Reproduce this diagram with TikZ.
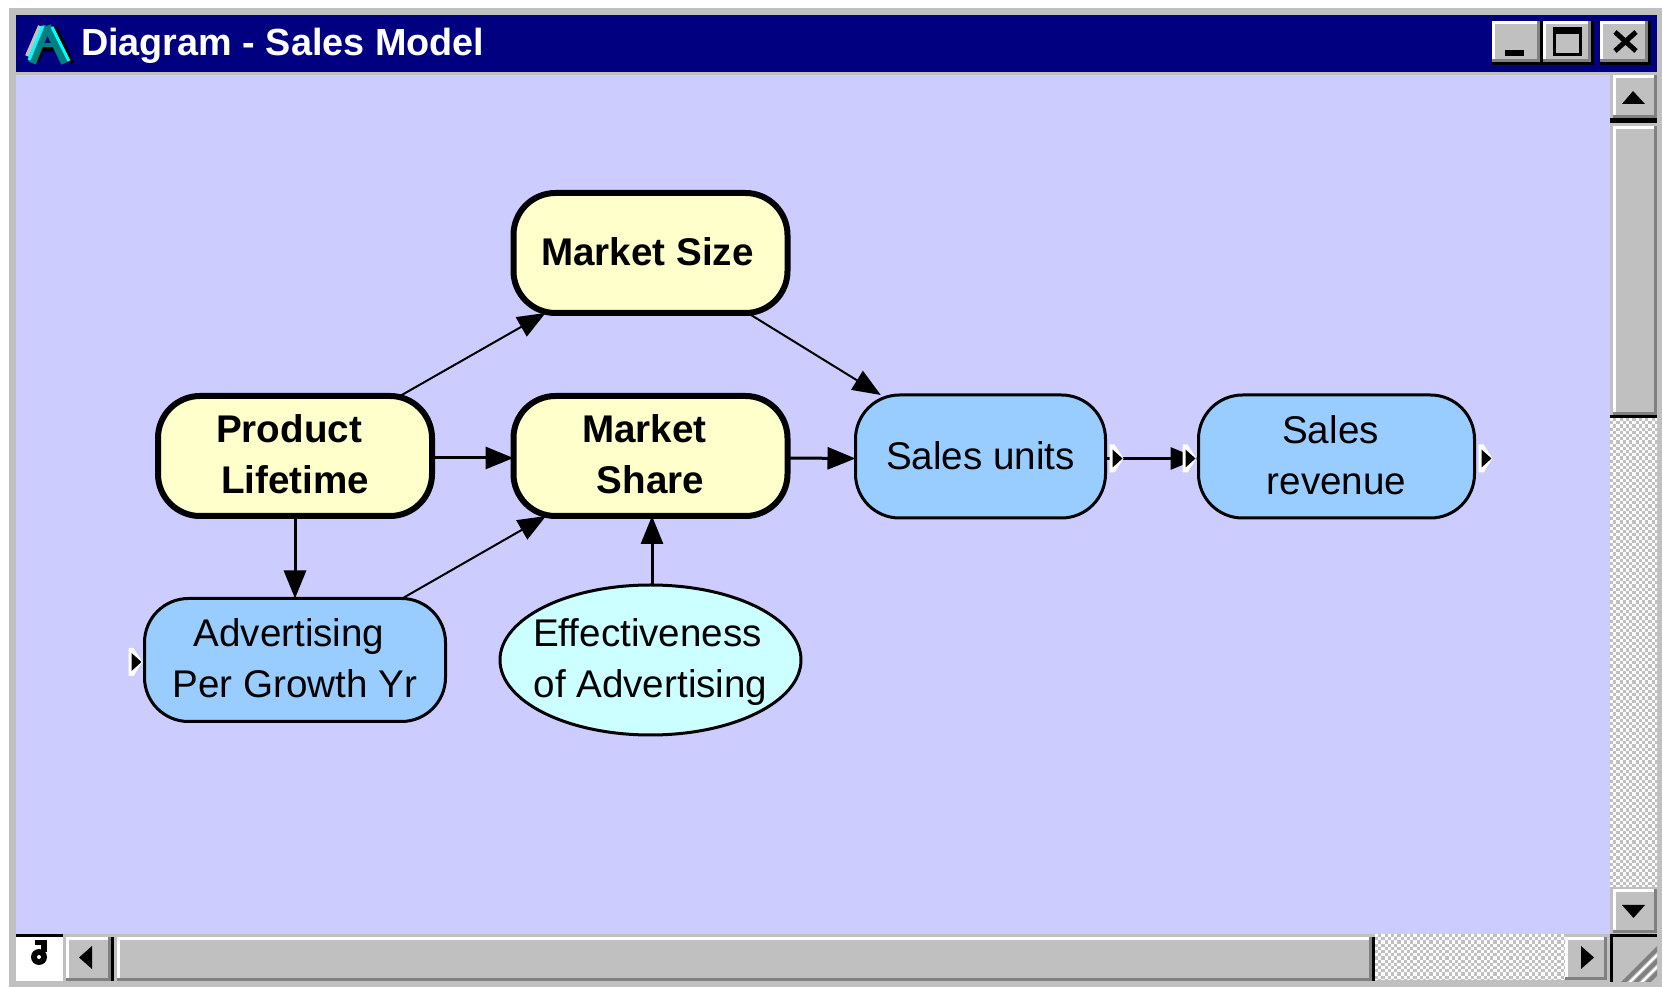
\documentclass[tikz,border=0pt]{standalone}
\usepackage{fontspec}
\setmainfont{Liberation Sans}
\usepackage{xcolor}
\usetikzlibrary{arrows.meta,calc,shapes.geometric}
\definecolor{winGrey}{RGB}{192,192,192}
\definecolor{winDark}{RGB}{128,128,128}
\definecolor{winNavy}{RGB}{0,0,128}
\definecolor{canvasBg}{RGB}{204,204,255}
\definecolor{decisionFill}{RGB}{255,255,204}
\definecolor{variableFill}{RGB}{153,204,255}
\definecolor{chanceFill}{RGB}{204,255,255}
\definecolor{iconTeal}{RGB}{0,128,128}
\definecolor{iconCyan}{RGB}{0,255,255}
\tikzset{
  x=0.5pt, y=-0.5pt,
  modelText/.style={font=\fontsize{19.3}{25.5}\selectfont, align=center, text=black, inner sep=0pt, outer sep=0pt},
  oneLine/.style={execute at begin node={\rule{0pt}{16.5pt}}, execute at end node={\rule[-3.5pt]{0pt}{0pt}}},
  twoLines/.style={execute at end node={\rule[-1.5pt]{0pt}{0pt}}},
  inputNode/.style={modelText, font=\fontsize{19.3}{25.5}\selectfont\bfseries, draw=black, fill=decisionFill, line width=3pt,
    rounded corners=21pt, minimum width=137pt, minimum height=60pt},
  varNode/.style={modelText, draw=black, fill=variableFill, line width=1.5pt,
    rounded corners=22pt, minimum height=61.5pt},
  chanceNode/.style={modelText, ellipse, draw=black, fill=chanceFill, line width=1.5pt,
    inner xsep=-9pt, minimum width=150.5pt, minimum height=75pt},
  influence/.style={-{Triangle[length=14pt,width=11pt]}, line width=1.5pt},
  influenceThin/.style={-{Triangle[length=14pt,width=11pt]}, line width=1pt},
  titleText/.style={font=\fontsize{18.9}{22}\selectfont\bfseries, text=white, inner sep=0pt, outer sep=0pt, anchor=base west}
}
% raised button: x0,y0,x1,y1
\newcommand{\DrawButton}[4]{%
  \fill[winDark] (#1,#2) rectangle (#3,#4);
  \fill[white] (#1,#2) rectangle ({#3-3},{#4-3});
  \fill[winGrey] ({#1+3},{#2+3}) rectangle ({#3-3},{#4-3});
}
% title bar button has a black shadow outside
\newcommand{\DrawTitleButton}[4]{%
  \fill[black] (#1,#2) rectangle ({#3+3},{#4+3});
  \DrawButton{#1}{#2}{#3}{#4}
}
% dithered scroll track
\newcommand{\DrawChecker}[4]{%
  \fill[winGrey] (#1,#2) rectangle (#3,#4);
  \begin{scope}
    \clip (#1,#2) rectangle (#3,#4);
    \pgfmathtruncatemacro{\nx}{(#3-#1)/3.2+1}
    \pgfmathtruncatemacro{\ny}{(#4-#2)/3.2+1}
    \foreach \i in {0,...,\nx}{%
      \foreach \j in {0,...,\ny}{%
        \pgfmathtruncatemacro{\odd}{mod(\i+\j,2)}%
        \ifnum\odd=0
          \fill[white] ({#1+3.2*\i},{#2+3.2*\j}) rectangle ++(3.2,3.2);
        \fi
      }%
    }
  \end{scope}
}
% small output marker beside a node
\newcommand{\DrawPort}[1]{%
  \fill[white] ($#1+(-7,-14)$) -- ($#1+(-2,-14)$) -- ($#1+(7,0)$) -- ($#1+(-2,14)$) -- ($#1+(-7,14)$) -- cycle;
  \fill[black] ($#1+(-4,-9)$) -- ($#1+(6,0)$) -- ($#1+(-4,9)$) -- cycle;
}
\begin{document}
\begin{tikzpicture}
  \useasboundingbox (0,0) rectangle (1662,988);
  \fill[white] (0,0) rectangle (1662,988);
  \fill[winGrey] (9,8) rectangle (1662,987);
  % title bar
  \fill[winNavy] (16,15) rectangle (1657,72);
  \fill[canvasBg] (16,75) rectangle (1610,934);
  % application icon
  \draw[black, line width=2pt] (56,28) -- (72,63);
  \draw[black, line width=2pt] (37,62) -- (42,50) -- (55,50);
  \draw[winGrey, line width=2pt] (27,56) -- (40,26);
  \draw[iconTeal, line width=4pt] (47,26) -- (32,63);
  \draw[iconTeal, line width=4pt] (47,26) -- (65,63);
  \draw[iconTeal, line width=2pt] (40,45) -- (58,45);
  \draw[iconCyan, line width=1.5pt] (43,26) -- (29,60);
  \draw[iconCyan, line width=1.5pt] (52,27) -- (69,61);
  \node[titleText] (wintitle) at (81,56) {Diagram - Sales Model};
  % title buttons
  \DrawTitleButton{1492}{21}{1540}{62}
  \DrawTitleButton{1543}{21}{1591}{62}
  \DrawTitleButton{1600}{21}{1648}{62}
  \fill[black] (1505,50) rectangle (1524,56);
  \draw[black, line width=1.5pt] (1554.5,30) rectangle (1580.5,55);
  \fill[black] (1553,27) rectangle (1582,34);
  \draw[black, line width=2.5pt] (1615,32) -- (1636,51);
  \draw[black, line width=2.5pt] (1636,32) -- (1615,51);
  % vertical scroll bar
  \DrawButton{1613}{75}{1657}{118}
  \fill[black] (1610,118) rectangle (1657,123);
  \fill[black] (1622,104) -- (1633,91) -- (1645,104) -- cycle;
  \DrawButton{1613}{126}{1657}{415}
  \fill[black] (1610,415) rectangle (1657,418);
  \DrawChecker{1610}{418}{1657}{887}
  \DrawButton{1613}{889}{1657}{933}
  \fill[black] (1622,905) -- (1645,905) -- (1633.5,918) -- cycle;
  \fill[black] (1610,934) rectangle (1657,937);
  % horizontal scroll bar
  \fill[white] (16,937) rectangle (63,981);
  \fill[black] (16,934) rectangle (63,937);
  \fill[black] (39,957) circle (8);
  \fill[black] (35,940) rectangle (47,945);
  \fill[black] (41,940) rectangle (47,952);
  \fill[white] (39,957) circle (2);
  \DrawButton{66}{937}{111}{981}
  \fill[black] (111,937) rectangle (114,981);
  \fill[black] (92,946) -- (79,957.5) -- (92,969) -- cycle;
  \DrawButton{117}{937}{1372}{981}
  \fill[black] (1372,937) rectangle (1375,981);
  \DrawChecker{1375}{934}{1565}{980}
  \DrawButton{1565}{937}{1607}{980}
  \fill[black] (1581,946) -- (1594,957.5) -- (1581,969) -- cycle;
  \fill[black] (1610,937) rectangle (1613,982);
  % size grip
  \begin{scope}
    \clip (1613,982) -- (1657,982) -- (1657,940) -- cycle;
    \draw[winDark, line width=2pt] (1620,986) -- (1662,944);
    \draw[white, line width=1pt] (1626,986) -- (1668,944);
    \draw[winDark, line width=2pt] (1632,986) -- (1674,944);
    \draw[white, line width=1pt] (1638,986) -- (1680,944);
    \draw[winDark, line width=2pt] (1644,986) -- (1686,944);
  \end{scope}
  % model nodes
  \node[inputNode, oneLine] (size) at (650.5,253) {Market Size\hspace*{3pt}};
  \node[inputNode, twoLines] (lifetime) at (295,456) {Product\hspace*{6pt}\\Lifetime};
  \node[inputNode, twoLines] (share) at (650.5,456) {Market\hspace*{6pt}\\Share};
  \node[varNode, oneLine, minimum width=125pt] (units) at (980.5,456.5) {Sales units};
  \node[varNode, twoLines, minimum width=138pt] (revenue) at (1336.5,456.5) {Sales\hspace*{6pt}\\revenue};
  \node[varNode, twoLines, minimum width=150.5pt] (advert) at (295,660) {Advertising\hspace*{6pt}\\Per Growth Yr};
  \node[chanceNode, twoLines] (effect) at (650.5,660) {Effectiveness\hspace*{3pt}\\\smash{of Advertising}};
  % influences
  \draw[influenceThin] (lifetime) -- (size);
  \draw[influenceThin] (size) -- (units);
  \draw[influenceThin] (advert) -- (share);
  \draw[influence] ([yshift=-1pt]lifetime.east) -- ([yshift=-1pt]share.west);
  \draw[influence] ([yshift=-1pt]share.east) -- ([yshift=-1pt]units.west);
  \draw[influence] ([yshift=-1pt]units.east) -- ([yshift=-1pt]revenue.west);
  \draw[influence] (lifetime.south) -- (advert.north);
  \draw[influence] ([xshift=0.75pt]effect.north) -- ([xshift=0.75pt]share.south);
  % output markers
  \DrawPort{([shift={(11,2)}]units.east)}
  \DrawPort{([shift={(-9,2)}]revenue.west)}
  \DrawPort{([shift={(11,2)}]revenue.east)}
  \DrawPort{([shift={(-9,2)}]advert.west)}
\end{tikzpicture}
\end{document}
